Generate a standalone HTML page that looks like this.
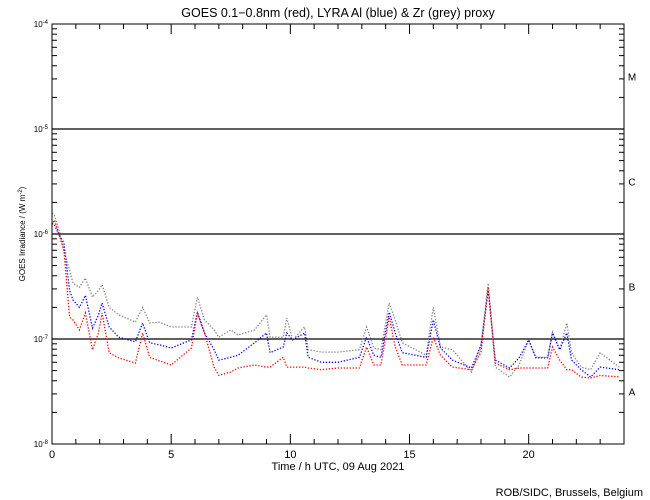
<!DOCTYPE html>
<html><head><meta charset="utf-8">
<style>
html,body{margin:0;padding:0;background:#fff;}
svg{display:block;font-family:"Liberation Sans",sans-serif;}
</style></head>
<body>
<svg id="chart" width="650" height="500" viewBox="0 0 650 500" xmlns="http://www.w3.org/2000/svg">
<rect width="650" height="500" fill="#fff"/>
<text x="338" y="17" text-anchor="middle" font-size="12.5">GOES 0.1−0.8nm (red), LYRA Al (blue) &amp; Zr (grey) proxy</text>
<text transform="translate(25,234) rotate(-90)" text-anchor="middle" font-size="8">GOES Irradiance / (W m<tspan dy="-3" font-size="6">-2</tspan><tspan dy="3">)</tspan></text>
<text x="338" y="470" text-anchor="middle" font-size="11">Time / h UTC, 09 Aug 2021</text>
<text x="643" y="496" text-anchor="end" font-size="11">ROB/SIDC, Brussels, Belgium</text>
<g id="axes"></g>
<g id="marks"></g>
<rect x="52" y="24" width="572" height="420" fill="none" stroke="#000" stroke-width="1"/>
</svg>
<script>
const times=[0,0.1,0.3,0.5,0.74,0.88,1.15,1.4,1.7,1.95,2.1,2.4,2.8,3.5,3.8,4.1,4.5,5,5.85,6.1,6.4,6.8,7.0,7.5,7.8,8.5,9.0,9.15,9.7,9.85,10.1,10.6,10.75,11.3,12,12.9,13.2,13.5,13.8,14.15,14.4,14.7,15.7,16,16.3,16.8,17.6,18.0,18.3,18.6,19.2,19.6,20,20.3,20.8,21.0,21.3,21.6,21.8,22.2,22.6,23,23.8];
// values in units of 1e-8 W m^-2
const goesRed=[122,136,98,70,16.2,15.2,12.2,17.7,7.9,11.4,17.7,7.4,6.6,5.9,11.4,6.7,6.2,5.65,8.2,17.7,11.4,5.4,4.5,4.85,5.3,5.65,5.4,5.4,6.7,5.4,5.4,5.4,5.3,5.1,5.3,5.3,8.4,5.65,5.65,16.2,8.4,5.65,5.65,10.4,7.0,5.4,5.1,7.5,31,5.9,5.1,5.3,5.3,5.3,5.3,8.4,6.3,5.1,5.1,4.35,4.25,4.5,4.35];
const lyraAl=[127,122,98,82,29,23.5,20,26,12.7,17,22,13,10.4,9.4,14.2,9.2,8.8,8.2,9.8,18,11.4,7.9,6.3,6.7,7.0,9.2,11.4,7.4,8.4,11.4,9.8,11.4,6.7,6.0,6.0,6.7,10.4,7.0,6.7,18,11.4,7.4,6.7,15.2,8.2,6.3,5.3,8.8,29,6.3,5.3,6.6,9.8,6.6,6.6,11.4,7.9,11.4,6.3,5.1,4.35,5.4,5.1];
const lyraZr=[158,150,109,70,45,34,31,38,25,29,33,20,17,14.5,20,14.2,14.5,13,13,25,15.2,12.2,10.4,12.2,10.9,12.2,17,10.4,10.4,15.8,9.8,13,7.9,7.5,7.5,7.9,13,8.2,7.9,22,15.2,9.2,7.0,20,8.4,7.9,4.85,8.4,34,5.4,4.35,5.65,9.8,6.7,6.7,11.6,7.9,14.2,7.4,5.4,5.1,7.4,5.4];
const yTickExps=[-8,-7,-6,-5,-4];
const xTickLabels=[0,5,10,15,20];
const classLabels=["A","B","C","M"];
const UNIT=1e-8;

const X0=52,X1=624,Y0=444,Y1=24,TMAX=24,LMIN=-8,LMAX=-4;
const NS="http://www.w3.org/2000/svg";
function xs(t){return X0+(t/TMAX)*(X1-X0);}
function ys(v){return Y0-(Math.log10(v)-LMIN)/(LMAX-LMIN)*(Y0-Y1);}
function mk(tag,attrs,parent){const e=document.createElementNS(NS,tag);for(const k in attrs)e.setAttribute(k,attrs[k]);parent.appendChild(e);return e;}
const axes=document.getElementById('axes'),marks=document.getElementById('marks');

for(let d=LMIN;d<LMAX;d++){for(let m=1;m<10;m++){const y=ys(m*Math.pow(10,d));const L=m===1?8:5;
const a=mk('line',{x1:X0,x2:X0+L,y1:y,y2:y,stroke:'#000'},axes);


const b=mk('line',{x1:X1-L,x2:X1,y1:y,y2:y,stroke:'#000'},axes);

}}
yTickExps.forEach(e=>{const y=ys(Math.pow(10,e));
const t=mk('text',{x:48,y:y+3,'text-anchor':'end','font-size':'8'},axes);


t.innerHTML='10<tspan dy="-3" font-size="6">'+e+'</tspan>';
if(e>-8&&e<-4){const g=mk('line',{x1:X0,x2:X1,y1:y,y2:y,stroke:'#000','stroke-width':1.3},axes);

}});
classLabels.forEach((c,i)=>{const y=ys(Math.pow(10,LMIN+i+0.5));
const t=mk('text',{x:632,y:y+4,'text-anchor':'middle','font-size':'10'},axes);


t.textContent=c;});
for(let h=0;h<=TMAX;h++){const x=xs(h);const L=h%5===0?10:5;
const a=mk('line',{x1:x,x2:x,y1:Y0,y2:Y0-L,stroke:'#000'},axes);


const b=mk('line',{x1:x,x2:x,y1:Y1,y2:Y1+L,stroke:'#000'},axes);

}
xTickLabels.forEach(v=>{const t=mk('text',{x:xs(v),y:458,'text-anchor':'middle','font-size':'11'},axes);


t.textContent=v;});

function series(vals,color,name){const pts=vals.map((v,i)=>xs(times[i]).toFixed(1)+','+ys(v*UNIT).toFixed(1)).join(' ');
const p=mk('polyline',{points:pts,fill:'none',stroke:color,'stroke-width':1.3,'stroke-dasharray':'1.3 1.7'},marks);

}
series(lyraZr,'#808080','series-lyra-zr-grey');
series(lyraAl,'#0000ff','series-lyra-al-blue');
series(goesRed,'#ff0000','series-goes-red');
</script>
</body></html>
